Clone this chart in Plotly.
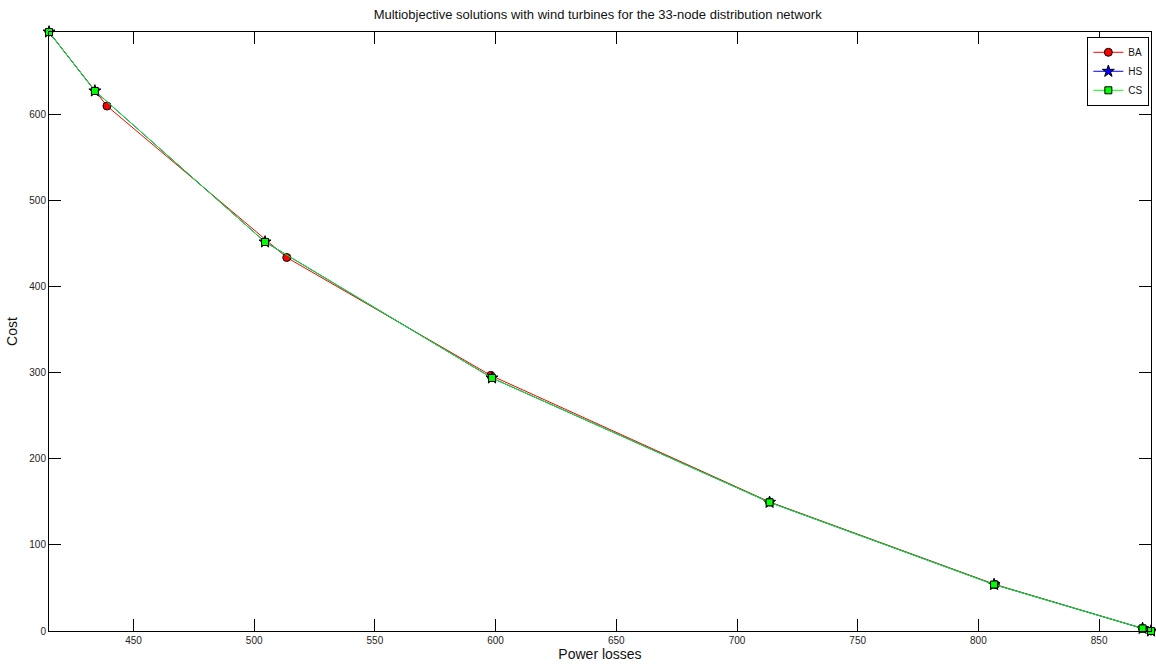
import plotly.graph_objects as go

ba_x = [415, 439, 513.5, 598, 713.5, 807, 868, 871.5]
ba_y = [696, 610, 434, 297, 150, 54, 3, 0]
hs_x = [415, 434, 504.5, 598.5, 713.5, 806.5, 868, 871.5]
hs_y = [696, 627.5, 452, 294, 149.5, 54, 3, 0]
cs_x = [415, 434, 504.5, 598.5, 713.5, 806.5, 868, 871.5]
cs_y = [696, 627.5, 452, 294, 149.5, 54, 3, 0]

xticks = [450, 500, 550, 600, 650, 700, 750, 800, 850]
yticks = [0, 100, 200, 300, 400, 500, 600]

fig = go.Figure()
fig.add_trace(go.Scatter(x=ba_x, y=ba_y, name="BA", mode="lines+markers", cliponaxis=False,
                         line=dict(color="#ff0000", width=1),
                         marker=dict(symbol="circle", size=8, color="#ff0000",
                                     line=dict(color="#000000", width=1))))
fig.add_trace(go.Scatter(x=hs_x, y=hs_y, name="HS", mode="lines+markers", cliponaxis=False,
                         line=dict(color="#0000ff", width=1),
                         marker=dict(symbol="star", size=9, color="#0000ff",
                                     line=dict(color="#000000", width=1))))
fig.add_trace(go.Scatter(x=cs_x, y=cs_y, name="CS", mode="lines+markers", cliponaxis=False,
                         line=dict(color="#00ff00", width=1),
                         marker=dict(symbol="square", size=7, color="#00ff00",
                                     line=dict(color="#000000", width=1))))

axis_common = dict(showgrid=False, zeroline=False, showline=True, linecolor="black",
                   linewidth=1, mirror="allticks", ticks="inside", ticklen=12,
                   tickcolor="black", tickfont=dict(family="Liberation Sans", size=10, color="#222"))

fig.update_layout(
    width=1156, height=670,
    margin=dict(l=49, r=5, t=32, b=39),
    paper_bgcolor="white", plot_bgcolor="white",
    title=dict(text="Multiobjective solutions with wind turbines for the 33-node distribution network",
               x=0.517, xanchor="center", y=0.979, yanchor="middle",
               font=dict(family="Liberation Sans", size=13, color="#111")),
    xaxis=dict(range=[415, 871.5], tickvals=xticks,
               title=dict(text="Power losses", standoff=4,
                          font=dict(family="Liberation Sans", size=14, color="#111")),
               **axis_common),
    yaxis=dict(range=[0, 696], tickvals=yticks,
               title=dict(text="Cost", standoff=8,
                          font=dict(family="Liberation Sans", size=14, color="#111")),
               **axis_common),
    legend=dict(x=0.9985, y=0.992, xanchor="right", yanchor="top",
                bgcolor="white", bordercolor="black", borderwidth=1,
                font=dict(family="Liberation Sans", size=10, color="#111"),
                itemwidth=30, tracegroupgap=0),
    showlegend=True,
)

fig.write_html("out.html")
